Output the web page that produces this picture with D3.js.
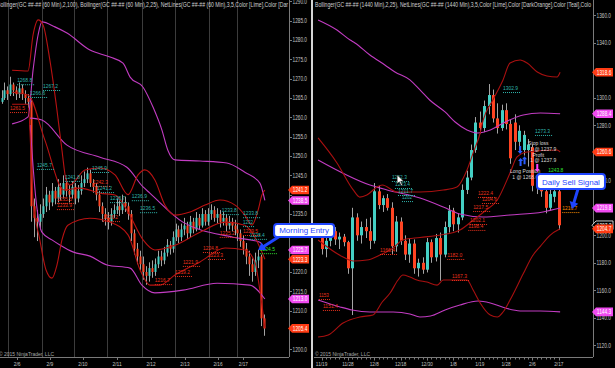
<!DOCTYPE html>
<html>
<head>
<meta charset="utf-8">
<title>GC 60 Min / Daily</title>
<script src="https://cdn.jsdelivr.net/npm/d3@7"></script>
<style>
  body { margin: 0; background: #000; }
  svg { display: block; font-family: "Liberation Sans", Arial, sans-serif; }
</style>
</head>
<body>
<svg id="chart"></svg>
<script>
// ---- 60 min panel (left) ----
const leftOpen = [1264,1265,1267,1266,1268.5,1267,1266,1267.5,1266,1265,
  1264,1237,1234,1233,1235,1237,1240,1238,1241,1239,
  1242,1240,1243,1241,1240,1242,1239,1241,1243,1244,
  1245.5,1243,1242,1240,1237,1235,1234,1233,1235,1236,
  1237,1236,1238,1237,1235,1230,1226,1224,1222,1220,
  1219,1221,1220,1222,1224,1223,1225,1227,1226,1229,
  1231,1229,1231,1232,1230,1233,1231,1234,1232,1235,
  1233,1235,1236,1234,1235,1233,1234,1232,1233,1232,
  1231,1230,1228,1226,1224,1222,1220,1223,1224,1208];
const leftClose = [1265,1267,1266,1268.5,1267,1266,1267.5,1266,1265,1264,
  1237,1234,1233,1235,1237,1240,1238,1241,1239,1242,
  1240,1243,1241,1240,1242,1239,1241,1243,1244,1245.5,
  1243,1242,1240,1237,1235,1234,1233,1235,1236,1237,
  1236,1238,1237,1235,1230,1226,1224,1222,1220,1219,
  1221,1220,1222,1224,1223,1225,1227,1226,1229,1231,
  1229,1231,1232,1230,1233,1231,1234,1232,1235,1233,
  1235,1236,1234,1235,1233,1234,1232,1233,1232,1231,
  1230,1228,1226,1224,1222,1220,1223,1224,1208,1205.4];
const leftHigh = [1267,1269,1268,1270.5,1269,1268,1269,1268.5,1267,1266,
  1265,1239,1236,1237.5,1239,1242,1241,1243,1242,1244,
  1243,1245,1244,1242.5,1243.5,1243,1242.5,1245,1246,1247,
  1246.5,1244,1243,1241,1238,1236.5,1235.5,1236.5,1237.5,1239,
  1238.5,1240,1239.5,1238,1236,1231,1227.5,1225.5,1224,1221.5,
  1222.5,1223,1223.5,1225.5,1225.5,1226.5,1228.5,1228,1230.5,1232.5,
  1232,1232.5,1234,1233,1234.5,1234,1235.5,1235,1236.5,1236,
  1236.5,1237.5,1237,1236.5,1236,1235.5,1235,1234.5,1234,1233.5,
  1232.5,1231,1229.5,1227.5,1225.5,1223.5,1225,1225.7,1224.5,1209];
const leftLow = [1263.5,1264.5,1264.5,1265.5,1265.5,1264.5,1265,1264.5,1263.5,1262.5,
  1233,1229,1228,1231,1234,1235.5,1236,1237,1237.5,1238,
  1238.5,1239,1239.5,1238,1239,1237.5,1238,1240,1242,1243,
  1242,1240.5,1238.5,1235.5,1233,1232,1231,1232,1234,1235,
  1234.5,1235,1235.5,1233.5,1228,1224.5,1222,1220.5,1218,1216.7,
  1217.5,1218.5,1219,1221,1221.5,1222,1224,1224.5,1225,1228,
  1227.5,1228,1229.5,1228.5,1229,1230,1230.5,1231,1231.5,1232,
  1232,1233.5,1233,1232.5,1231.5,1232,1230.5,1231,1230.5,1229.5,
  1228,1226.5,1224.5,1222,1219,1217.5,1219,1221,1206,1203.5];

const leftSessions = [2.2, 13.6, 24.6, 35.8, 47.6, 58.8, 70.3, 79.7];
const leftDayPos = [5.3, 16.4, 27.6, 39.2, 50.7, 62.2, 73.4, 82];
const leftDayLabels = ['2/6', '2/9', '2/10', '2/11', '2/12', '2/13', '2/16', '2/17'];
const leftPriceTicks = d3.range(1200, 1291, 5);

// Bollinger(2,100) magenta and Bollinger(2,25) red, [bar, price]
const leftMagUpper = [[3.6,1258.3],[9,1260.1],[10.7,1272.2],[12.4,1281.3],[13.7,1284.7],[18.1,1283.4],
  [22.2,1281.8],[30,1277.4],[36.8,1275.6],[41.2,1274.0],[43.6,1270.4],[48,1267.8],[51.4,1262.6],
  [54.4,1256.7],[56.4,1251.5],[58.8,1249.0],[67.3,1248.7],[76.4,1248.2],[82.5,1245.8],[87.6,1243.0],[89.3,1238.5]];
const leftMagMid = [[9.7,1259.8],[13.7,1259.3],[22.2,1252.8],[33.4,1249.7],[42.5,1247.1],[48,1242.0],
  [50.3,1240.4],[61.5,1232.9],[78.5,1229.0],[87.6,1227.7],[89.3,1225.7]];
const leftMagLower = [[9.7,1258.0],[11.7,1238.6],[13.7,1230.3],[17.1,1228.3],[19.8,1227.0],[24.2,1225.2],
  [30,1224.1],[35.8,1221.8],[43.6,1221.0],[47.6,1216.6],[52,1214.6],[61.5,1215.3],[73.1,1217.1],
  [84.2,1216.6],[89.3,1213.0]];
const leftRedUpper = [[3.6,1272.2],[9,1272.0],[10.7,1281.3],[12.4,1285.2],[14.1,1283.9],[16.4,1274.8],
  [18.8,1261.9],[20.5,1251.5],[21.9,1243.8],[23.2,1242.5],[28.3,1246.4],[33.4,1246.9],[38.5,1245.1],
  [42.9,1240.0],[46.3,1245.1],[48.6,1246.4],[52,1243.8],[55.4,1237.3],[58.8,1234.7],[63.9,1235.5],
  [69,1237.3],[74.1,1238.6],[79.2,1237.3],[82.5,1234.7],[84.9,1232.1],[87,1236.0],[88.3,1239.9],[89.3,1241.2]];
const leftRedMid = [[3.6,1266.5],[9,1265.8],[14.7,1254.1],[21.2,1241.2],[26.6,1241.7],[33.4,1240.4],
  [38.5,1239.9],[42.9,1235.5],[48,1228.3],[52,1225.7],[58.8,1226.9],[67.3,1230.3],[75.8,1232.9],
  [82.5,1232.1],[85.9,1229.0],[89.3,1223.3]];
const leftRedLower = [[3.6,1263.4],[9,1263.4],[10.7,1238.6],[13,1228.3],[15.1,1220.5],[17.1,1218.4],
  [18.8,1221.8],[20.5,1228.3],[22.5,1232.1],[30,1233.9],[36.8,1232.9],[42.9,1229.6],[47,1220.5],
  [50.3,1216.6],[53.7,1216.6],[58.8,1219.2],[67.3,1222.6],[75.8,1226.2],[82.5,1225.7],[85.9,1222.6],
  [87.6,1215.3],[89.3,1205.4]];

const leftTags = [[1241.2,'r'],[1238.5,'m'],[1225.7,'m'],[1223.3,'r'],[1213.0,'m'],[1205.4,'r']];
const leftNotes = [
  [5.3,1269.6,'1268.8','t'],[14.1,1268.1,'1267.2','t'],[9.7,1266.3,'1266.6','t'],[2.9,1262.4,'1261.5','r'],
  [12,1247.7,'1245.7','t'],[21.5,1244.6,'1241.8','t'],[30.7,1246.9,'1245.9','t'],[31,1243.3,'1242.3','r'],
  [32.4,1241.7,'1241.2','t'],[36.8,1239.1,'1238.7','t'],[44.2,1239.6,'1236.9','t'],[47,1236.5,'1236.5','t'],
  [18.8,1238.9,'1235.5','r'],[18.8,1237.3,'1233.9','r'],[34.4,1234.2,'1226.2','r'],[52,1217.9,'1216.7','r'],
  [58.8,1220,'1219.2','r'],[61.5,1222.6,'1221.9','r'],[68.3,1226.2,'1224.8','r'],[70,1224.4,'1223.3','r'],
  [74,1230.1,'1225.2','r'],[74.7,1236,'1233.8','t'],[81.9,1235.2,'1233.8','t'],[81.9,1232.9,'1232','t'],
  [81.9,1230.6,'1229.5','r'],[84.2,1229.6,'1228.4','t'],[87.6,1225.9,'1224.5','g']];

// ---- daily panel (right) ----
const dailyOpen = [1198,1190,1196,1203,1197,1199,1195,1176,1213,1200,
  1206,1203,1196,1232,1222,1227,1220,1192,1210,1196,
  1186,1194,1176,1180,1175,1195,1184,1198,1186,1206,
  1218,1208,1213,1233,1242,1262,1282,1278,1294,1302,
  1285,1278,1291,1281,1282,1268,1262,1262,1264,1236,
  1240,1232,1220,1228,1232];
const dailyHigh = [1203,1200,1207,1206,1202,1201,1196,1220,1216,1210,
  1212,1213,1238,1236,1229,1230,1224,1214,1213,1200,
  1198,1197,1183,1184,1198,1197,1201,1202,1210,1222,
  1220,1216,1237,1247,1266,1286,1290,1298,1310,1306,
  1296,1295,1296,1284,1288,1280,1276,1270,1266,1243,
  1242,1234,1233,1236,1235];
const dailyLow = [1186,1184,1192,1193,1190,1192,1172,1142,1196,1194,
  1198,1190,1194,1219,1217,1218,1186,1188,1193,1182,
  1180,1172,1170,1172,1173,1180,1181,1167,1184,1202,
  1203,1202,1211,1230,1240,1260,1274,1275,1288,1282,
  1274,1276,1277,1252,1262,1262,1258,1250,1232,1230,
  1228,1216,1218,1224,1204];
const dailyClose = [1190,1196,1203,1197,1199,1195,1176,1213,1200,1206,
  1203,1196,1232,1222,1227,1220,1192,1210,1196,1186,
  1194,1176,1180,1175,1195,1184,1198,1186,1206,1218,
  1208,1213,1233,1242,1262,1282,1278,1294,1302,1285,
  1278,1291,1281,1256,1268,1276,1273,1266,1236,1240,
  1232,1220,1230,1232,1207.3];

const dailyDayLabels = ['11/19','11/28','12/8','12/18','12/30','1/8','1/19','1/28','2/6','2/17'];
const dailyPriceTicks = d3.range(1120, 1361, 20);

const dailyMagUpper = [[-0.8,1356.6],[3.5,1349.3],[6.5,1342.0],[7.6,1339.9],[11,1331.1],[14.4,1323.9],
  [16.7,1318.8],[20.1,1313.0],[22.4,1305.7],[24.6,1298.4],[28.1,1289.7],[30.4,1282.4],[33.1,1276.6],
  [35.6,1274.4],[38.4,1276.6],[41.8,1282.4],[45.9,1287.5],[49.8,1289.0],[54.3,1288.4]];
const dailyMagMid = [[-0.8,1254.8],[11,1236.6],[14.9,1233.0],[22.4,1227.1],[27.7,1220.6],[31.5,1215.5],
  [36.8,1213.3],[42.9,1214.8],[50.4,1217.0],[54.3,1219.8]];
const dailyMagLower = [[-0.8,1152.9],[4.2,1147.9],[6.9,1145.7],[11,1144.2],[16.3,1144.2],[20.1,1142.8],
  [22.4,1140.6],[24.8,1141.3],[28.1,1145.7],[31.5,1149.3],[35.6,1152.2],[38.4,1150.8],[41.8,1147.1],
  [45.2,1145.0],[49.8,1145.0],[54.3,1144.3]];
const dailyRedUpper = [[-0.8,1270.8],[3.5,1252.6],[7.2,1233.0],[8.7,1227.8],[10.3,1229.3],[12.6,1235.1],
  [13.8,1236.6],[17.2,1231.5],[22.4,1231.5],[27.7,1232.9],[30.8,1235.1],[33.1,1247.5],[34.5,1259.9],
  [36.1,1274.4],[36.8,1283.9],[39,1298.4],[41.3,1313.0],[42.9,1325.3],[45.2,1327.5],[46.8,1325.3],
  [49.1,1318.8],[51.3,1315.9],[53.6,1315.1],[54.3,1318.6]];
const dailyRedMid = [[-0.8,1196.6],[4.9,1184.2],[7.2,1181.3],[10.3,1182.0],[13.3,1185.7],[16.3,1190.8],
  [18.5,1196.6],[22.4,1198.4],[27,1200.2],[31.5,1203.9],[34.9,1212.0],[37.2,1217.7],[40,1225.7],
  [42.9,1245.3],[44.5,1257.0],[46.8,1260.6],[53.6,1262.0],[54.3,1260.6]];
const dailyRedLower = [[-0.8,1126.0],[1.5,1127.5],[4.9,1136.2],[8.7,1140.6],[11.7,1142.0],[13.8,1151.5],
  [15.6,1158.0],[17.4,1167.5],[18.5,1171.1],[20.1,1169.7],[21.7,1167.5],[24,1166.0],[26.3,1163.8],
  [27.7,1167.5],[33.1,1167.5],[34.5,1160.2],[36.1,1150.8],[38.4,1142.0],[40,1140.6],[41.3,1144.2],
  [42.9,1152.9],[45.9,1172.0],[48,1185.0],[49.8,1192.0],[52,1200.0],[54.3,1204.7]];

const dailyTags = [[1318.6,'r'],[1288.4,'m'],[1260.6,'r'],[1219.8,'m'],[1207.3,'k'],[1204.7,'r'],[1144.3,'m']];
const dailyNotes = [
  [41.3,1307.1,'1302.9','t'],[48.6,1275.9,'1273.3','t'],[35.6,1230.8,'1222.4','r'],[36.5,1226.4,'1204.6','r'],
  [34.5,1220.6,'1217.5','r'],[33.8,1211.1,'1202.1','r'],[33.4,1206.8,'1198.4','r'],[51.6,1247.5,'1243.8','g'],
  [54.8,1219.8,'1216.7','o'],[13.3,1189.3,'1166.4','r'],[28.6,1185.7,'1182.0','r'],[29.7,1170.4,'1167.3','r'],
  [-0.6,1156.6,'1153','r'],[0.3,1148.6,'1151.4','r'],[16,1242.4,'1232.3','t'],[16.7,1237.3,'1223.4','t'],
  [17.4,1232.2,'1211.7','t'],[18.3,1227.8,'1202','t']];
const dailyTradeText = [[47,1267.1,'Stop loss'],[47.5,1262.8,'1 @ 1237.9'],[48,1258.4,'Profit'],
  [47.5,1254.8,'1 @ 1237.9'],[42.9,1246.8,'Long Position'],[43.4,1242.4,'1 @ 1268.6']];
const dailyArrows = [[45.2,1262,'down','#2a5cff'],[45.3,1253.3,'up','#2a5cff'],[46.2,1254.5,'up','#2a5cff'],[49.1,1249,'down','#ff44ff']];

const noteColor = { t: '#2fb4ac', r: '#e8301c', g: '#30e030', o: '#ff8c00' };
const tagColor = { r: '#ff3c14', m: '#f04af0', k: '#000' };
const upColor = '#44cfc4', downColor = '#ff4422';
const magColor = '#c23cc2', redColor = '#b81212';

const W = 615, H = 368;
const svg = d3.select('#chart').attr('width', W).attr('height', H);
svg.append('rect').attr('width', W).attr('height', H).attr('fill', '#000');

const defs = svg.append('defs');
defs.append('clipPath').attr('id', 'clipL').append('rect')
  .attr('x', 0).attr('y', 0).attr('width', 289).attr('height', 357);
defs.append('clipPath').attr('id', 'clipR').append('rect')
  .attr('x', 314).attr('y', 0).attr('width', 279).attr('height', 357);

const xL = d3.scaleLinear().domain([0, 89]).range([1.5, 264]);
const yL = d3.scaleLinear().domain([1200, 1290]).range([349.3, 1.36]);
const xR = d3.scaleLinear().domain([0, 54]).range([321.6, 558.8]);
const yR = d3.scaleLinear().domain([1120, 1360]).range([345.3, 15.3]);

const blue = '#1f45ff';
const callouts = [
  { text: 'Morning Entry', tx: xL(87), ty: yL(1225.7), bx: 16, by: -26, w: 60, h: 13, ax: 22, ay: -14 },
  { text: 'Daily Sell Signal', tx: xR(57), ty: yR(1219.1), bx: -35, by: -35, w: 68, h: 15, ax: 6, ay: -20 }
];

// session separators on the 60 min chart
svg.append('g').selectAll('line').data(leftSessions).join('line')
  .attr('x1', d => Math.round(xL(d)) + 0.5).attr('x2', d => Math.round(xL(d)) + 0.5)
  .attr('y1', 0).attr('y2', 357)
  .attr('stroke', '#3c3c3c').attr('stroke-width', 1);

function drawCandles(g, x, y, o, h, l, c, bw) {
  const idx = d3.range(c.length);
  g.append('g').selectAll('line').data(idx).join('line')
    .attr('x1', i => Math.round(x(i)) + 0.5).attr('x2', i => Math.round(x(i)) + 0.5)
    .attr('y1', i => y(h[i])).attr('y2', i => y(l[i]))
    .attr('stroke', '#a4a4a4').attr('stroke-width', 1);
  g.append('g').selectAll('rect').data(idx).join('rect')
    .attr('x', i => Math.round(x(i)) + 0.5 - bw / 2).attr('width', bw)
    .attr('y', i => y(Math.max(o[i], c[i])))
    .attr('height', i => Math.max(1, Math.abs(y(o[i]) - y(c[i]))))
    .attr('fill', i => c[i] >= o[i] ? upColor : downColor);
}

function drawBand(g, x, y, pts, color) {
  const line = d3.line().x(d => x(d[0])).y(d => y(d[1])).curve(d3.curveMonotoneX);
  g.append('path').attr('d', line(pts)).attr('fill', 'none')
    .attr('stroke', color).attr('stroke-width', 1.1);
}

function drawNotes(g, x, y, notes) {
  notes.forEach(([i, p, s, k]) => {
    const tx = x(i), ty = y(p);
    const w = s.length * 2.5;
    g.append('text').attr('x', tx).attr('y', ty + 2)
      .attr('font-size', 6).attr('fill', noteColor[k])
      .attr('textLength', w).attr('lengthAdjust', 'spacingAndGlyphs').text(s);
    g.append('line').attr('x1', tx).attr('x2', tx + w + 2)
      .attr('y1', ty + 4.5).attr('y2', ty + 4.5)
      .attr('stroke', noteColor[k]).attr('stroke-width', 1).attr('stroke-dasharray', '1,1');
  });
}

// left panel
const gL = svg.append('g').attr('clip-path', 'url(#clipL)');
drawCandles(gL, xL, yL, leftOpen, leftHigh, leftLow, leftClose, 2);
[[leftMagUpper, magColor], [leftMagMid, magColor], [leftMagLower, magColor],
 [leftRedUpper, redColor], [leftRedMid, redColor], [leftRedLower, redColor]]
  .forEach(([pts, col]) => drawBand(gL, xL, yL, pts, col));
drawNotes(gL, xL, yL, leftNotes);

// right panel
const gR = svg.append('g').attr('clip-path', 'url(#clipR)');
drawCandles(gR, xR, yR, dailyOpen, dailyHigh, dailyLow, dailyClose, 3);
[[dailyMagUpper, magColor], [dailyMagMid, magColor], [dailyMagLower, magColor],
 [dailyRedUpper, '#a81010'], [dailyRedMid, '#a81010'], [dailyRedLower, '#a81010']]
  .forEach(([pts, col]) => drawBand(gR, xR, yR, pts, col));
drawNotes(gR, xR, yR, dailyNotes);
dailyTradeText.forEach(([i, p, s]) => {
  gR.append('text').attr('x', xR(i)).attr('y', yR(p) + 2)
    .attr('font-size', 5).attr('fill', '#d8d8d8').text(s);
});
dailyArrows.forEach(([i, p, dir, col]) => {
  const ax = xR(i), ay = yR(p), s = dir === 'up' ? -1 : 1;
  gR.append('path')
    .attr('d', `M${ax},${ay + 4 * s}L${ax - 2.5},${ay + 1 * s}L${ax - 1},${ay + 1 * s}L${ax - 1},${ay - 4 * s}L${ax + 1},${ay - 4 * s}L${ax + 1},${ay + 1 * s}L${ax + 2.5},${ay + 1 * s}Z`)
    .attr('fill', col);
});
// mouse pointer left in the screenshot
{
  const cx = xR(17.2), cy = yR(1244);
  gR.append('path')
    .attr('d', `M${cx},${cy}l0,9l2.2,-2l1.8,3.8l1.3,-0.6l-1.8,-3.7l3,0z`)
    .attr('fill', '#fff').attr('stroke', '#000').attr('stroke-width', 0.5);
}

// axes; tick labels hidden behind a price tag or a callout box are left out
const axisCol = '#7a7a7a', labelCol = '#c4c4c4';
function hiddenTick(x0, ty, tags, y) {
  if (tags.some(t => Math.abs(y(t[0]) - ty) < 5)) return true;
  return callouts.some(c => {
    const bx = c.tx + c.bx, by = c.ty + c.by;
    return x0 + 4 >= bx && x0 + 18 <= bx + c.w && ty >= by && ty <= by + c.h;
  });
}
function priceAxis(x0, y, ticks, tags) {
  const g = svg.append('g');
  g.append('line').attr('x1', x0 + 0.5).attr('x2', x0 + 0.5).attr('y1', 0).attr('y2', 357)
    .attr('stroke', axisCol);
  g.selectAll('line.t').data(ticks).join('line').attr('class', 't')
    .attr('x1', x0).attr('x2', x0 + 3)
    .attr('y1', d => Math.round(y(d)) + 0.5).attr('y2', d => Math.round(y(d)) + 0.5)
    .attr('stroke', axisCol);
  g.selectAll('text').data(ticks.filter(d => !hiddenTick(x0, y(d), tags, y))).join('text')
    .attr('x', x0 + 3.5).attr('y', d => y(d) + 2.2)
    .attr('font-size', 6.5).attr('fill', labelCol)
    .attr('textLength', 14.5).attr('lengthAdjust', 'spacingAndGlyphs')
    .text(d => d.toFixed(1));
}
priceAxis(289, yL, leftPriceTicks, leftTags);
priceAxis(593, yR, dailyPriceTicks, dailyTags);

// bottom axes
svg.append('line').attr('x1', 0).attr('x2', 289).attr('y1', 357.5).attr('y2', 357.5).attr('stroke', axisCol);
svg.append('line').attr('x1', 314).attr('x2', 593).attr('y1', 357.5).attr('y2', 357.5).attr('stroke', axisCol);
svg.append('g').selectAll('line').data(leftDayPos).join('line')
  .attr('x1', d => Math.round(xL(d)) + 0.5).attr('x2', d => Math.round(xL(d)) + 0.5)
  .attr('y1', 357).attr('y2', 360).attr('stroke', axisCol);
svg.append('g').selectAll('text').data(leftDayLabels).join('text')
  .attr('x', (d, i) => xL(leftDayPos[i])).attr('y', 366)
  .attr('text-anchor', 'middle').attr('font-size', 6).attr('fill', labelCol)
  .attr('textLength', d => d.length * 2.3).attr('lengthAdjust', 'spacingAndGlyphs')
  .text(d => d);
svg.append('g').selectAll('line').data(d3.range(dailyClose.length)).join('line')
  .attr('x1', d => Math.round(xR(d)) + 0.5).attr('x2', d => Math.round(xR(d)) + 0.5)
  .attr('y1', 357).attr('y2', d => d % 6 === 0 ? 360.5 : 359.5).attr('stroke', axisCol);
svg.append('g').selectAll('text').data(dailyDayLabels).join('text')
  .attr('x', (d, i) => xR(i * 6)).attr('y', 366)
  .attr('text-anchor', 'middle').attr('font-size', 6).attr('fill', labelCol)
  .attr('textLength', d => d.length * 2.3).attr('lengthAdjust', 'spacingAndGlyphs')
  .text(d => d);

// price tags on the axes
function drawTags(x0, y, tags) {
  tags.forEach(([v, k]) => {
    const ty = y(v);
    svg.append('path')
      .attr('d', `M${x0},${ty}L${x0 + 4},${ty - 4.3}H${x0 + 21}V${ty + 4.3}H${x0 + 4}Z`)
      .attr('fill', tagColor[k]).attr('stroke', k === 'k' ? '#fff' : 'none').attr('stroke-width', 0.8);
    svg.append('text').attr('x', x0 + 4.8).attr('y', ty + 2.3)
      .attr('font-size', 6.5).attr('fill', '#fff')
      .attr('textLength', 14.5).attr('lengthAdjust', 'spacingAndGlyphs')
      .text(v.toFixed(1));
  });
}
drawTags(288, yL, leftTags);
drawTags(592, yR, dailyTags);

// headers and copyright
const leftHeader = 'Bollinger(GC ##-## (60 Min),2,100), Bollinger(GC ##-## (60 Min),2,25), NetLines(GC ##-## (60 Min),3,5,Color [Lime],Color [Dar';
const rightHeader = 'Bollinger(GC ##-## (1440 Min),2,25), NetLines(GC ##-## (1440 Min),3,5,Color [Lime],Color [DarkOrange],Color [Teal],Colo';
svg.append('text').attr('x', -3).attr('y', 6.5).attr('font-size', 6.5).attr('fill', '#d0d0d0')
  .attr('textLength', 291).attr('lengthAdjust', 'spacingAndGlyphs').text(leftHeader);
svg.append('text').attr('x', 315).attr('y', 6.5).attr('font-size', 6.5).attr('fill', '#d0d0d0')
  .attr('textLength', 276).attr('lengthAdjust', 'spacingAndGlyphs').text(rightHeader);
[-1, 315].forEach(x0 => {
  svg.append('text').attr('x', x0).attr('y', 355.5).attr('font-size', 6).attr('fill', '#a8a8a8')
    .attr('textLength', 55).attr('lengthAdjust', 'spacingAndGlyphs').text('\u00a9 2015 NinjaTrader, LLC');
});

// panel separator
svg.append('rect').attr('x', 311).attr('y', 0).attr('width', 2).attr('height', H).attr('fill', '#d4d4d4');

// callouts
function arrow(x1, y1, x2, y2, color) {
  const dx = x2 - x1, dy = y2 - y1, len = Math.hypot(dx, dy);
  const ux = dx / len, uy = dy / len, px = -uy, py = ux;
  const hl = 7, hw = 4.5, sw = 1.5;
  const bx = x2 - ux * hl, by = y2 - uy * hl;
  const pts = [[x1 + px * sw, y1 + py * sw], [bx + px * sw, by + py * sw], [bx + px * hw, by + py * hw],
    [x2, y2], [bx - px * hw, by - py * hw], [bx - px * sw, by - py * sw], [x1 - px * sw, y1 - py * sw]];
  svg.append('polygon').attr('points', pts.map(p => p.join(',')).join(' ')).attr('fill', color);
}
callouts.forEach(c => {
  arrow(c.tx + c.ax, c.ty + c.ay, c.tx, c.ty, blue);
  svg.append('rect').attr('x', c.tx + c.bx).attr('y', c.ty + c.by).attr('width', c.w).attr('height', c.h)
    .attr('rx', 3).attr('fill', '#fff').attr('stroke', blue).attr('stroke-width', 2);
  svg.append('text').attr('x', c.tx + c.bx + c.w / 2).attr('y', c.ty + c.by + c.h / 2 + 3)
    .attr('text-anchor', 'middle').attr('font-size', 8).attr('fill', blue).text(c.text);
});
</script>
</body>
</html>
